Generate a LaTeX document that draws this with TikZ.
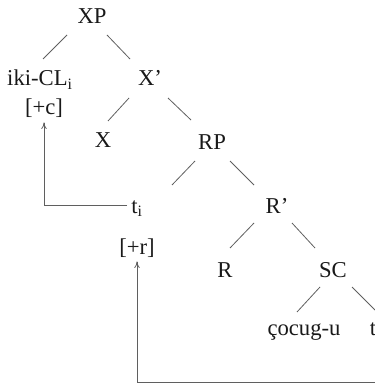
\documentclass[tikz,border=0pt]{standalone}
\usepackage{fontspec}
\setmainfont{Liberation Serif}
\usepackage{tikz}
\usetikzlibrary{positioning,calc,arrows.meta}
\definecolor{InkDark}{RGB}{25,25,25}
\definecolor{BranchGray}{RGB}{95,95,95}

\begin{document}
\begin{tikzpicture}[
      x=0.75pt, y=-0.75pt,
      cat/.style={anchor=base, inner sep=3pt, text=InkDark, font=\fontsize{17}{20}\selectfont},
      branch/.style={BranchGray, line width=0.6pt},
      move/.style={-{To[length=5pt,width=4pt]}, BranchGray, line width=0.6pt}
    ]
      \useasboundingbox (0,0) rectangle (374,388);
      \node[cat] (XP) at (92,24) {XP};
      \node[cat] (iki) at (40,86) {iki-CL\textsubscript{i}};
      \node[cat] (Xbar) at (150,86) {X'};
      \node[cat] (cc) at (44,115) {[+c]};
      \node[cat] (X) at (103,148) {X};
      \node[cat] (RP) at (212,150) {RP};
      \node[cat] (ti) at (137,213) {t\textsubscript{i}};
      \node[cat] (Rbar) at (277,213) {R'};
      \node[cat] (rr) at (137,254) {[+r]};
      \node[cat] (R) at (225,277) {R};
      \node[cat] (SC) at (333,277) {SC};
      \node[cat] (coc) at (304,335) {çocug-u};
      \node[cat] (t) at (373,335) {t};

      \draw[branch] ($(XP.base)+(-25,11)$) -- ($(iki.base)+(3,-27)$);
      \draw[branch] ($(XP.base)+(15,11)$) -- ($(Xbar.base)+(-20,-27)$);
      \draw[branch] ($(Xbar.base)+(-21,12)$) -- ($(X.base)+(5,-27)$);
      \draw[branch] ($(Xbar.base)+(18,12)$) -- ($(RP.base)+(-21,-30)$);
      \draw[branch] ($(RP.base)+(-17,11)$) -- ($(ti.base)+(35,-28)$);
      \draw[branch] ($(RP.base)+(18,11)$) -- ($(Rbar.base)+(-23,-28)$);
      \draw[branch] ($(Rbar.base)+(-23,10)$) -- ($(R.base)+(5,-29)$);
      \draw[branch] ($(Rbar.base)+(15,10)$) -- ($(SC.base)+(-18,-29)$);
      \draw[branch] ($(SC.base)+(-13,10)$) -- ($(coc.base)+(-7,-23)$);
      \draw[branch] ($(SC.base)+(19,10)$) -- ($(t.base)+(2,-25)$);

      \draw[move] ([yshift=2pt]ti.west) -| (cc.south);
      \coordinate (low) at (380,382);
      \draw[move] (t.south -| low) -- (low) -| (rr.south);
    \end{tikzpicture}
\end{document}
